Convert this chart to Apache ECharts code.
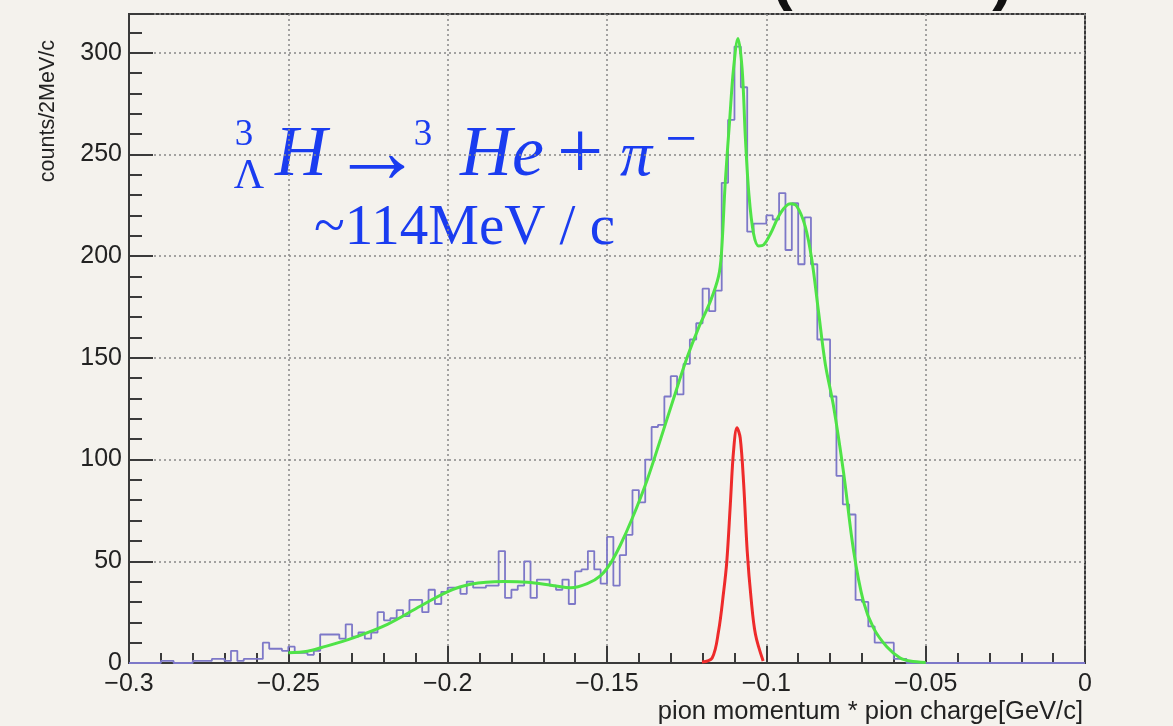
<!DOCTYPE html>
<html><head><meta charset="utf-8">
<script src="https://cdn.jsdelivr.net/npm/echarts@6/dist/echarts.min.js"></script>
<style>html,body{margin:0;padding:0;background:#f4f2ed;}#c{width:1173px;height:726px;}</style>
</head><body><div id="c"></div>
<script>
// histogram: 2 MeV bins starting at -0.3 GeV/c
const binStart = -0.3;
const binWidth = 0.002;
const counts = [
  0,0,0,0,0,1,1,0,0,0,
  1,1,1,2,2,1,6,1,2,2,
  2,10,7,7,6,8,5,5,4,6,
  14,14,14,12,19,13,15,12,15,25,
  21,22,26,23,31,31,25,36,29,35,
  37,37,34,40,37,37,38,38,55,32,
  36,38,50,32,41,41,38,36,41,29,
  45,46,55,46,39,62,38,53,63,85,
  79,100,116,117,131,141,132,147,159,167,
  184,173,183,236,267,303,283,212,216,216,
  220,218,231,203,226,196,219,196,159,159,
  131,92,78,73,31,30,18,10,10,10,
  2,2,0,0,0,0,0,0,0,0,
  0,0,0,0,0,0,0,0,0,0,
  0,0,0,0,0,0,0,0,0,0
];
// total fit (green)
const fitX = [-0.2500,-0.2440,-0.2398,-0.2294,-0.2189,-0.2085,-0.2001,-0.1928,-0.1824,-0.1750,-0.1667,-0.1614,-0.1562,-0.1520,-0.1489,-0.1458,-0.1421,-0.1374,-0.1332,-0.1291,-0.1249,-0.1212,-0.1175,-0.1150,-0.1141,-0.1129,-0.1115,-0.1103,-0.1089,-0.1076,-0.1066,-0.1055,-0.1040,-0.1024,-0.1008,-0.0987,-0.0956,-0.0925,-0.0904,-0.0878,-0.0857,-0.0837,-0.0815,-0.0790,-0.0758,-0.0726,-0.0695,-0.0663,-0.0622,-0.0580,-0.0549,-0.0500];
const fitY = [5.0,5.8,7.5,12.5,19,28,35,38.7,40,39.7,38,37,39,43,49,58,71,90,110,130,150,165,178,190,201,236,267,292,307,292,259,231,211,205,205.6,211,221,225.7,224.4,214.6,198,173.6,147,127,94,55,30,17,8,2.5,1,0.3];
// signal Gaussian (red)
const sigX = [-0.1202,-0.1170,-0.1150,-0.1134,-0.1124,-0.1113,-0.1103,-0.1092,-0.1082,-0.1071,-0.1060,-0.1048,-0.1034,-0.1010];
const sigY = [0.5,2.5,15.6,35,50,78,104,115.6,110.7,87.7,55,32,14,1];
// axis ticks
const xTicks = [-0.3,-0.25,-0.2,-0.15,-0.1,-0.05,0];
const xTickLabels = ['\u22120.3','\u22120.25','\u22120.2','\u22120.15','\u22120.1','\u22120.05','0'];
const yTicks = [0,50,100,150,200,250,300];
const yTickLabels = ['0','50','100','150','200','250','300'];

const histData = counts.map((v,i)=>[binStart+i*binWidth, v]);
histData.push([binStart+counts.length*binWidth, counts[counts.length-1]]);
const fitData = fitX.map((x,i)=>[x, fitY[i]]);
const sigData = sigX.map((x,i)=>[x, sigY[i]]);

function lab(ticks, labels){ return v => { for (let i=0;i<ticks.length;i++) if (Math.abs(ticks[i]-v)<1e-9) return labels[i]; return ''; }; }

const blue = '#1a3cf0';
const axisCol = '#3a3a3a';
const chart = echarts.init(document.getElementById('c'), null, {renderer:'canvas'});
chart.setOption({
  animation:false,
  backgroundColor:'#f4f2ed',
  grid:{left:129,right:88,top:14,bottom:63,show:true,borderColor:axisCol,borderWidth:2,backgroundColor:'transparent'},
  xAxis:{type:'value',min:-0.3,max:0,interval:0.05,
    axisLine:{onZero:false,lineStyle:{color:axisCol,width:2}},
    axisTick:{inside:true,length:17,lineStyle:{color:axisCol,width:2}},
    minorTick:{show:true,splitNumber:5,length:10,lineStyle:{color:axisCol,width:2}},
    axisLabel:{formatter:lab(xTicks,xTickLabels),color:'#222',fontSize:25,fontFamily:'Liberation Sans',margin:9},
    splitLine:{show:true,lineStyle:{color:'#888',width:1.5,type:[2,3]}}},
  yAxis:{type:'value',min:0,max:319,interval:50,position:'left',
    axisLine:{show:true,onZero:false,lineStyle:{color:axisCol,width:2}},
    axisTick:{inside:true,length:24,lineStyle:{color:axisCol,width:2}},
    minorTick:{show:true,splitNumber:5,length:13,lineStyle:{color:axisCol,width:2}},
    axisLabel:{formatter:lab(yTicks,yTickLabels),color:'#222',fontSize:25,fontFamily:'Liberation Sans',margin:7,showMaxLabel:false},
    splitLine:{show:true,lineStyle:{color:'#888',width:1.5,type:[2,3]}}},
  series:[
    {type:'line',data:histData,step:'end',showSymbol:false,lineStyle:{color:'#7d78c8',width:1.8},z:2},
    {type:'line',data:fitData,smooth:0.35,showSymbol:false,lineStyle:{color:'#4fe347',width:3},z:3},
    {type:'line',data:sigData,smooth:0.35,showSymbol:false,lineStyle:{color:'#ee2b2b',width:3},z:3}
  ],
  graphic:[
    {type:'text',x:1083,y:712,style:{text:'pion momentum * pion charge[GeV/c]',font:'25.5px "Liberation Sans"',fill:'#222',align:'right',verticalAlign:'middle'}},
    {type:'text',x:48,y:40,rotation:Math.PI/2,style:{text:'counts/2MeV/c',font:'21.5px "Liberation Sans"',fill:'#222',align:'right',verticalAlign:'middle'}},
    {type:'text',x:782,y:12,style:{text:'(',font:'bold 64px "Liberation Sans"',fill:'#111',align:'center',verticalAlign:'bottom'}},
    {type:'text',x:1003,y:12,style:{text:')',font:'bold 64px "Liberation Sans"',fill:'#111',align:'center',verticalAlign:'bottom'}},
    {type:'text',x:244,y:135,style:{text:'3',font:'37px "Liberation Serif"',fill:blue,align:'center',verticalAlign:'middle'}},
    {type:'text',x:249,y:177,style:{text:'\u039B',font:'42px "Liberation Serif"',fill:blue,align:'center',verticalAlign:'middle'}},
    {type:'text',x:301,y:156,style:{text:'H',font:'italic 72px "Liberation Serif"',fill:blue,align:'center',verticalAlign:'middle'}},
    {type:'text',x:377,y:158,style:{text:'\u2192',font:'92px "Liberation Serif"',fill:blue,align:'center',verticalAlign:'middle'}},
    {type:'text',x:423,y:135,style:{text:'3',font:'37px "Liberation Serif"',fill:blue,align:'center',verticalAlign:'middle'}},
    {type:'text',x:460,y:156,style:{text:'He',font:'italic 72px "Liberation Serif"',fill:blue,align:'left',verticalAlign:'middle'}},
    {type:'text',x:580,y:156,style:{text:'+',font:'82px "Liberation Serif"',fill:blue,align:'center',verticalAlign:'middle'}},
    {type:'text',x:620,y:158,style:{text:'\u03C0',font:'italic 64px "Liberation Serif"',fill:blue,align:'left',verticalAlign:'middle'}},
    {type:'text',x:681,y:142,style:{text:'\u2212',font:'56px "Liberation Serif"',fill:blue,align:'center',verticalAlign:'middle'}},
    {type:'text',x:314,y:229,style:{text:'~114MeV / c',font:'57px "Liberation Serif"',fill:blue,align:'left',verticalAlign:'middle'}}
  ]
});
</script></body></html>
